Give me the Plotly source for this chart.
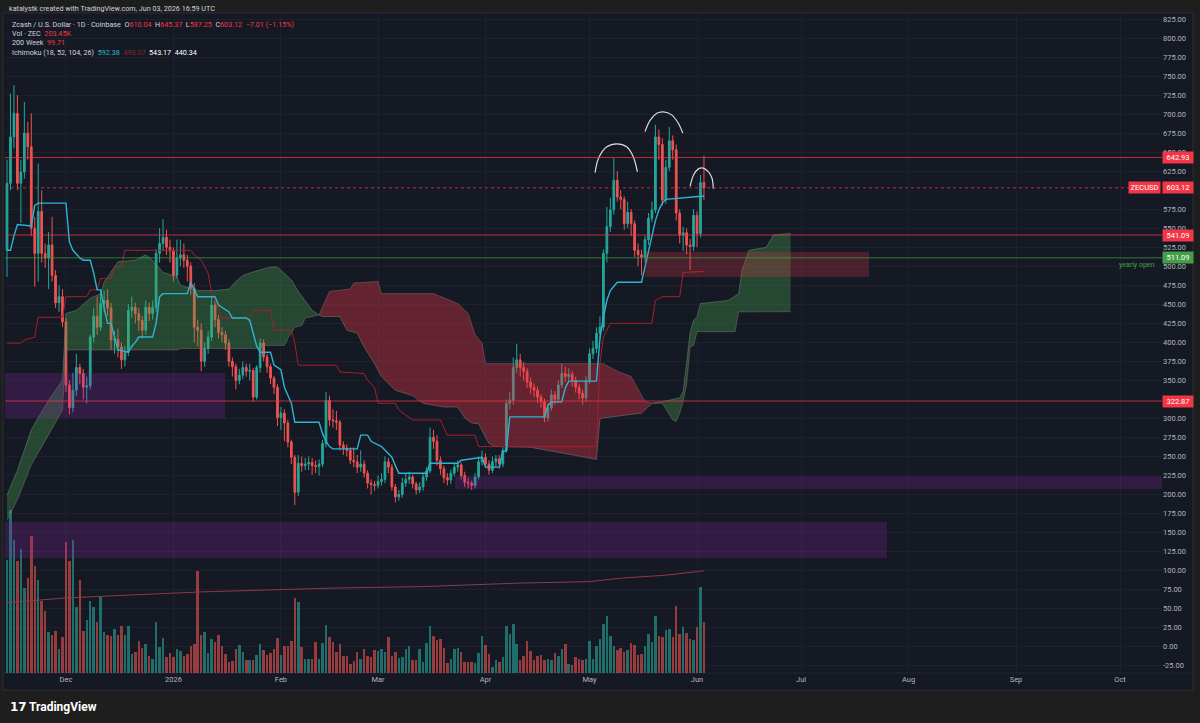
import datetime as dt
import plotly.graph_objects as go

START = dt.datetime(2025, 11, 14)   # index 0 of every series below

# ---- daily candles, Nov 14 2025 .. Jun 3 2026 (opens = previous close) ----
first_open = 521
closes = [
    609, 670, 701, 609, 624, 675, 657, 550, 517, 572,
    517, 511, 528, 488, 452, 460, 427, 344, 314, 337,
    367, 359, 341, 343, 407, 434, 420, 451, 455, 445,
    403, 404, 394, 377, 387, 442, 446, 438, 429, 416,
    446, 438, 446, 517, 530, 538, 525, 520, 488, 511,
    515, 508, 500, 471, 420, 416, 375, 392, 407, 449,
    430, 413, 410, 399, 375, 368, 350, 357, 367, 362,
    363, 328, 367, 399, 381, 368, 353, 341, 301, 307,
    294, 269, 249, 203, 241, 238, 240, 242, 238, 237,
    240, 267, 324, 298, 297, 295, 265, 261, 258, 245,
    243, 236, 240, 228, 215, 213, 212, 217, 220, 243,
    236, 210, 197, 200, 215, 220, 223, 214, 206, 210,
    223, 231, 275, 270, 245, 234, 222, 219, 228, 236,
    239, 225, 216, 215, 212, 223, 243, 249, 240, 232,
    243, 247, 240, 258, 320, 324, 367, 377, 367, 362,
    348, 341, 337, 328, 322, 301, 314, 331, 325, 344,
    359, 355, 358, 350, 341, 333, 327, 350, 385, 392,
    412, 420, 517, 552, 574, 613, 591, 588, 556, 571,
    556, 521, 515, 512, 535, 563, 574, 670, 660, 587,
    630, 665, 653, 570, 541, 544, 528, 526, 567, 543,
    610.13, 603.12]
highs = [
    640, 727, 738, 725, 640, 716, 690, 701, 565, 635,
    600, 530, 545, 565, 495, 475, 470, 432, 350, 360,
    385, 372, 365, 355, 410, 445, 460, 470, 468, 470,
    452, 415, 418, 400, 395, 450, 460, 452, 445, 435,
    455, 452, 455, 522, 550, 562, 548, 535, 525, 535,
    535, 530, 515, 505, 478, 430, 425, 400, 415, 460,
    455, 436, 420, 415, 404, 380, 372, 365, 375, 372,
    372, 366, 370, 405, 404, 385, 372, 356, 345, 315,
    312, 298, 272, 252, 252, 250, 248, 250, 248, 245,
    246, 272, 335, 330, 312, 310, 298, 270, 266, 262,
    262, 252, 258, 245, 232, 220, 218, 225, 228, 250,
    248, 240, 214, 206, 222, 228, 230, 226, 217, 216,
    228, 236, 288, 285, 278, 250, 238, 228, 233, 242,
    245, 242, 230, 222, 218, 228, 250, 258, 254, 245,
    250, 252, 252, 262, 325, 335, 380, 398, 385, 374,
    366, 354, 346, 342, 332, 326, 320, 338, 336, 350,
    372, 368, 366, 362, 355, 345, 338, 356, 392, 402,
    420, 434, 522, 578, 590, 642, 625, 600, 592, 585,
    575, 560, 530, 522, 540, 570, 585, 686, 680, 668,
    640, 683, 672, 660, 575, 552, 550, 536, 575, 572,
    620, 645.37]
lows = [
    486, 600, 655, 600, 557, 615, 640, 540, 473, 480,
    505, 498, 470, 480, 445, 440, 420, 335, 305, 308,
    330, 345, 325, 320, 338, 400, 410, 415, 440, 435,
    390, 385, 380, 365, 368, 382, 432, 425, 415, 405,
    410, 428, 430, 440, 505, 520, 515, 505, 480, 484,
    500, 498, 480, 462, 400, 395, 362, 368, 385, 402,
    420, 405, 400, 390, 368, 355, 338, 345, 352, 355,
    350, 322, 325, 360, 375, 360, 345, 332, 290, 285,
    270, 262, 240, 186, 198, 230, 232, 232, 226, 228,
    225, 236, 262, 290, 288, 285, 258, 252, 250, 240,
    236, 228, 230, 222, 208, 200, 205, 208, 212, 215,
    228, 205, 190, 192, 196, 210, 214, 208, 200, 202,
    205, 218, 228, 260, 238, 226, 215, 212, 214, 224,
    230, 220, 210, 208, 206, 208, 220, 238, 235, 226,
    228, 236, 234, 236, 255, 312, 318, 360, 355, 350,
    340, 332, 328, 320, 314, 295, 296, 310, 318, 320,
    340, 348, 350, 342, 334, 325, 318, 322, 345, 378,
    386, 405, 415, 505, 545, 568, 585, 575, 548, 550,
    540, 512, 500, 488, 505, 528, 558, 570, 640, 580,
    582, 625, 640, 560, 530, 520, 516, 495, 520, 525,
    538, 587.25]
# volume in thousands of ZEC
volume_k = [
    452, 652, 532, 448, 496, 340, 380, 548, 428, 372,
    288, 248, 164, 152, 168, 96, 144, 524, 448, 532,
    264, 372, 168, 212, 288, 264, 204, 304, 164, 152,
    148, 176, 152, 188, 152, 188, 76, 84, 128, 100,
    116, 68, 56, 204, 104, 140, 64, 80, 64, 96,
    88, 68, 76, 108, 116, 408, 152, 164, 80, 136,
    124, 152, 108, 76, 44, 48, 96, 112, 84, 52,
    52, 52, 72, 116, 92, 72, 80, 96, 140, 72,
    108, 108, 128, 300, 284, 104, 56, 56, 56, 124,
    56, 120, 192, 144, 124, 84, 116, 68, 68, 36,
    48, 84, 56, 96, 68, 64, 92, 88, 96, 84,
    144, 68, 84, 60, 64, 96, 108, 52, 52, 96,
    44, 120, 188, 148, 132, 136, 100, 40, 56, 96,
    100, 84, 44, 44, 44, 40, 80, 148, 112, 76,
    24, 52, 44, 64, 188, 156, 196, 116, 52, 68,
    128, 88, 52, 68, 72, 52, 56, 52, 80, 68,
    96, 116, 36, 32, 64, 56, 52, 56, 128, 56,
    108, 136, 196, 228, 148, 108, 92, 100, 84, 92,
    120, 112, 72, 76, 108, 156, 124, 228, 148, 144,
    172, 176, 144, 268, 156, 184, 160, 136, 132, 184,
    344, 203.45]

# ---- Ichimoku (18, 52, 104, 26) ----
tenkan_i = [0, 1, 2, 3, 7, 8, 9, 17, 18, 19, 21, 22, 24, 25, 26, 27, 28, 29, 30, 31,
            32, 35, 36, 37, 38, 42, 43, 44, 45, 52, 53, 54, 55, 60, 61, 64, 65, 69, 70, 71,
            72, 73, 76, 77, 79, 80, 82, 83, 90, 91, 92, 93, 94, 101, 102, 104, 105, 108, 111, 112,
            113, 121, 122, 130, 131, 137, 138, 142, 143, 144, 145, 155, 156, 157, 160, 161, 162, 170, 171, 172,
            173, 174, 176, 183, 184, 185, 186, 187, 188, 189, 190, 201]
tenkan_v = [521, 521, 540, 555, 553, 580, 583, 583, 532, 521, 511, 508, 508, 491, 469, 469, 445, 425, 425, 407,
            390, 387, 395, 400, 407, 407, 425, 460, 464, 464, 479, 469, 460, 460, 449, 440, 432, 432, 429, 412,
            395, 387, 387, 370, 364, 341, 320, 295, 295, 280, 270, 263, 260, 260, 278, 278, 270, 263, 249, 238,
            228, 228, 241, 241, 245, 249, 236, 236, 257, 257, 302, 302, 317, 322, 322, 340, 349, 349, 405, 433,
            455, 468, 479, 479, 499, 520, 543, 560, 574, 583, 588, 592.38]
kijun_i = [0, 4, 5, 8, 9, 16, 17, 23, 24, 26, 27, 30, 31, 33, 34, 53, 54, 56, 58, 59,
           61, 62, 70, 71, 76, 77, 82, 83, 84, 95, 96, 103, 104, 106, 107, 112, 113, 116, 117, 125,
           126, 127, 135, 136, 170, 171, 172, 174, 186, 187, 189, 194, 195, 201]
kijun_v = [399, 399, 403, 407, 433, 433, 460, 460, 469, 469, 484, 484, 499, 499, 521, 521, 515, 508, 491, 466,
           445, 432, 432, 442, 442, 416, 416, 399, 370, 370, 361, 359, 350, 341, 320, 320, 311, 302, 298, 298,
           289, 278, 278, 263, 263, 372, 407, 425, 425, 455, 460, 460, 492, 493.07]
span_a_i = [0, 3, 7, 12, 16, 17, 20, 24, 27, 28, 32, 37, 40, 42, 45, 49, 50, 55, 60, 64,
            66, 68, 72, 76, 78, 80, 82, 84, 86, 88, 90, 91, 96, 98, 101, 103, 106, 108, 112, 117,
            120, 126, 130, 132, 134, 136, 139, 141, 151, 160, 168, 170, 171, 183, 185, 186, 189, 194, 195, 196,
            197, 198, 199, 200, 208, 211, 212, 214, 219, 221, 226]
span_a_v = [199, 232, 285, 324, 350, 438, 442, 458, 464, 479, 506, 508, 515, 508, 492, 486, 475, 468, 468, 470,
            480, 488, 494, 499, 499, 490, 482, 467, 455, 442, 436, 434, 434, 416, 412, 394, 372, 355, 337, 330,
            320, 315, 315, 301, 294, 293, 267, 263, 262, 255, 248, 246, 300, 307, 316, 320, 322, 327, 335, 372,
            412, 429, 433, 451, 455, 464, 495, 521, 525, 541, 543.17]
span_b_i = [0, 3, 7, 12, 16, 17, 49, 50, 73, 74, 80, 81, 83, 85, 86, 90, 91, 93, 99, 100,
            107, 108, 123, 130, 133, 135, 137, 138, 172, 176, 180, 182, 184, 186, 189, 192, 193, 194, 195, 196,
            197, 198, 199, 210, 211, 226]
span_b_v = [166, 193, 239, 278, 311, 390, 390, 392, 392, 396, 396, 405, 420, 422, 432, 436, 447, 467, 470, 478,
            480, 464, 464, 451, 438, 410, 399, 372, 372, 362, 355, 338, 322, 320, 320, 298, 296, 307, 322, 345,
            394, 396, 414, 414, 440, 440.34]
cloud_cross_i = [0, 90, 186, 226]          # span A / span B crossings

# ---- 200 week moving average ----
ma200_i = [0, 8, 17, 36, 56, 75, 94, 120, 148, 168, 177, 190, 196, 201]
ma200_v = [58, 61, 64, 68, 72, 74.5, 77, 79, 83.6, 85.5, 90, 94, 96.6, 99.71]

# ---- drawings ----
level_prices = [642.93, 541.09, 322.87]
yearly_open = 511.09
last_price = 603.12
zone_start = [-1, 129.2, -1]
zone_end = [62.9, 400, 253.8]
zone_low = [300.6, 207.0, 116.5]
zone_high = [359.7, 224.0, 163.9]
supply_start, supply_end, supply_low, supply_high = 184, 248.6, 486, 519
arc_left_i = [169.6, 170.6, 173.0, 175.9, 178.7, 180.6, 181.8]
arc_left_p = [623, 642, 657, 661, 657, 644, 624]
arc_head_i = [184.0, 185.5, 187.4, 189.3, 191.7, 193.6, 194.9]
arc_head_p = [677, 692, 701, 703, 699, 688, 675]
arc_right_i = [197.0, 198.0, 199.4, 200.8, 202.3, 203.3, 203.7]
arc_right_p = [605, 620, 628, 629, 624, 616, 602]

month_ticks = ["2025-12-01", "2026-01-01", "2026-02-01", "2026-03-01", "2026-04-01", "2026-05-01",
               "2026-06-01", "2026-07-01", "2026-08-01", "2026-09-01", "2026-10-01"]
month_labels = ["Dec", "2026", "Feb", "Mar", "Apr", "May", "Jun", "Jul", "Aug", "Sep", "Oct"]
# price labels hidden behind the tags in the original
price_ticks = [v for v in range(-25, 850, 25) if v not in (600, 325)]

UP, DOWN = "#26a69a", "#ef5350"
RED = "#f23645"
GREEN = "#43a047"
BG = "#151924"
OUTER = "#1e1e1e"
GRID = "#1d212d"
AXIS_TXT = "#b2b5be"
FONT = "Roboto"

# plot area in pixels (used only to place texts outside the axes)
PL, PR, PT, PB = 5, 1162, 13, 673


def day(i):
    return START + dt.timedelta(days=i)


def px(x):
    return (x - PL) / (PR - PL)


def py(y):
    return (PB - y) / (PB - PT)


dates = [day(i) for i in range(len(closes))]
opens = [first_open] + closes[:-1]
vol_colors = ["rgba(38,166,154,0.6)" if c >= o else "rgba(239,83,80,0.6)" for o, c in zip(opens, closes)]

fig = go.Figure()

# volume (base axis, drawn under everything)
fig.add_trace(go.Bar(x=dates, y=volume_k, marker=dict(color=vol_colors, line=dict(width=0)),
                     width=0.72 * 86400000, yaxis="y", hoverinfo="skip"))

# ichimoku cloud, one polygon per coloured stretch
for k in range(len(cloud_cross_i) - 1):
    a0, a1 = cloud_cross_i[k], cloud_cross_i[k + 1]
    ax = [day(i) for i in span_a_i if a0 <= i <= a1]
    ay = [v for i, v in zip(span_a_i, span_a_v) if a0 <= i <= a1]
    bx = [day(i) for i in span_b_i if a0 <= i <= a1]
    by = [v for i, v in zip(span_b_i, span_b_v) if a0 <= i <= a1]
    green = ay[len(ay) // 2] >= by[len(by) // 2]
    fig.add_trace(go.Scatter(
        x=ax + bx[::-1], y=ay + by[::-1], yaxis="y2", mode="lines", fill="toself",
        fillcolor="rgba(76,175,80,0.32)" if green else "rgba(242,54,69,0.36)",
        line=dict(width=0), hoverinfo="skip"))

fig.add_trace(go.Scatter(x=[day(i) for i in span_a_i], y=span_a_v, yaxis="y2", mode="lines",
                         line=dict(color="rgba(130,150,135,0.55)", width=0.8), hoverinfo="skip"))
fig.add_trace(go.Scatter(x=[day(i) for i in span_b_i], y=span_b_v, yaxis="y2", mode="lines",
                         line=dict(color="rgba(150,115,120,0.55)", width=0.8), hoverinfo="skip"))

# 200 week MA
fig.add_trace(go.Scatter(x=[day(i) for i in ma200_i], y=ma200_v, yaxis="y2", mode="lines",
                         line=dict(color="#8e3a44", width=1), hoverinfo="skip"))

# base and conversion lines
fig.add_trace(go.Scatter(x=[day(i) for i in kijun_i], y=kijun_v, yaxis="y2", mode="lines",
                         line=dict(color="#a3202c", width=1), hoverinfo="skip"))
fig.add_trace(go.Scatter(x=[day(i) for i in tenkan_i], y=tenkan_v, yaxis="y2", mode="lines",
                         line=dict(color="#2cb5d3", width=1.4), hoverinfo="skip"))

# candles
fig.add_trace(go.Candlestick(
    x=dates, open=opens, high=highs, low=lows, close=closes, yaxis="y2",
    increasing=dict(line=dict(color=UP, width=1), fillcolor=UP),
    decreasing=dict(line=dict(color=DOWN, width=1), fillcolor=DOWN),
    hoverinfo="skip"))

# head & shoulders arcs
for ai, ap in [(arc_left_i, arc_left_p), (arc_head_i, arc_head_p), (arc_right_i, arc_right_p)]:
    fig.add_trace(go.Scatter(x=[day(i) for i in ai], y=ap, yaxis="y2", mode="lines",
                             line=dict(color="#d9dbe0", width=1.2, shape="spline"), hoverinfo="skip"))

shapes = [
    # pane background + frame
    dict(type="rect", xref="paper", yref="paper", x0=px(3), x1=px(1193), y0=py(690), y1=py(13),
         fillcolor=BG, line=dict(color="#2a2e39", width=1), layer="below"),
    dict(type="line", xref="paper", yref="paper", x0=px(3), x1=px(1193), y0=0, y1=0,
         line=dict(color="#232733", width=1), layer="below"),
]
for s, e, lo, hi in zip(zone_start, zone_end, zone_low, zone_high):
    shapes.append(dict(type="rect", xref="x", yref="y2", x0=day(s), x1=day(e), y0=lo, y1=hi,
                       fillcolor="rgba(156,39,176,0.22)", line=dict(width=0), layer="above"))
shapes.append(dict(type="rect", xref="x", yref="y2", x0=day(supply_start), x1=day(supply_end),
                   y0=supply_low, y1=supply_high, fillcolor="rgba(242,54,69,0.24)",
                   line=dict(width=0), layer="above"))
for p in level_prices:
    shapes.append(dict(type="line", xref="paper", yref="y2", x0=0, x1=1, y0=p, y1=p,
                       line=dict(color="rgba(242,54,69,0.75)", width=1), layer="above"))
shapes.append(dict(type="line", xref="paper", yref="y2", x0=0, x1=1, y0=yearly_open, y1=yearly_open,
                   line=dict(color="rgba(67,160,71,0.7)", width=1), layer="above"))
shapes.append(dict(type="line", xref="paper", yref="y2", x0=0, x1=1, y0=last_price, y1=last_price,
                   line=dict(color="rgba(242,54,69,0.75)", width=1, dash="dot"), layer="above"))

ann = []


def tag(price, text, color):
    ann.append(dict(xref="paper", yref="y2", x=1, y=price, xanchor="left", yanchor="middle",
                    text=text, showarrow=False, bgcolor=color, width=28, height=9, borderpad=1,
                    font=dict(family=FONT, size=7.5, color="#ffffff")))


for p in level_prices:
    tag(p, f"{p:.2f}", RED)
tag(last_price, f"{last_price:.2f}", RED)
tag(yearly_open, f"{yearly_open:.2f}", GREEN)
ann.append(dict(xref="paper", yref="y2", x=1, y=last_price, xanchor="right", yanchor="middle", xshift=-1,
                text="ZECUSD", showarrow=False, bgcolor=RED, width=29, height=9, borderpad=1,
                font=dict(family=FONT, size=7.5, color="#ffffff")))
ann.append(dict(xref="paper", yref="y2", x=1, y=501.5, xanchor="right", yanchor="middle", xshift=-5,
                text="yearly open", showarrow=False, font=dict(family=FONT, size=7, color=GREEN)))

TXT = "#d1d4dc"


def red(s):
    return f"<span style='color:{RED}'>{s}</span>"


sp = "\u00a0"
legend_lines = [
    f"Zcash / U.S. Dollar · 1D · Coinbase{sp}{sp}O{red('610.04')}{sp}{sp}H{red('645.37')}{sp}{sp}"
    f"L{red('587.25')}{sp}{sp}C{red('603.12')}{sp}{sp}{red('−7.01 (−1.15%)')}",
    f"Vol · ZEC{sp}{sp}{red('203.45K')}",
    f"200 Week{sp}{sp}{red('99.71')}",
    f"Ichimoku (18, 52, 104, 26){sp}{sp}<span style='color:#2cb5d3'>592.38</span>{sp}{sp}"
    f"<span style='color:#8c2530'>493.07</span>{sp}{sp}<span style='color:#ffffff'>543.17</span>{sp}{sp}"
    f"<span style='color:#ffffff'>440.34</span>",
]
for k, line in enumerate(legend_lines):
    ann.append(dict(xref="paper", yref="paper", x=px(10), y=py(24 + 9.4 * k), xanchor="left",
                    yanchor="middle", text=line, showarrow=False, font=dict(family=FONT, size=7.2, color=TXT)))
ann.append(dict(xref="paper", yref="paper", x=px(7), y=py(8.3), xanchor="left", yanchor="middle",
                text="katalystk created with TradingView.com, Jun 03, 2026 16:59 UTC", showarrow=False,
                font=dict(family=FONT, size=7.2, color=TXT)))
ann.append(dict(xref="paper", yref="paper", x=px(8), y=py(707), xanchor="left", yanchor="middle",
                text="<b>17</b>", showarrow=False, font=dict(family="DejaVu Sans", size=12, color="#ffffff")))
ann.append(dict(xref="paper", yref="paper", x=px(27), y=py(707), xanchor="left", yanchor="middle",
                text="<b>TradingView</b>", showarrow=False, font=dict(family=FONT, size=12, color="#ffffff")))

fig.update_layout(
    width=1200, height=723, autosize=False,
    margin=dict(l=PL, r=1200 - PR, t=PT, b=723 - PB, pad=0),
    paper_bgcolor=OUTER, plot_bgcolor=BG,
    showlegend=False, bargap=0,
    font=dict(family=FONT, size=7.5, color=AXIS_TXT),
    xaxis=dict(type="date", range=[day(-0.58), day(333.1)], rangeslider=dict(visible=False),
               tickmode="array", tickvals=month_ticks, ticktext=month_labels,
               showgrid=True, gridcolor=GRID, gridwidth=1, zeroline=False, showline=False,
               ticks="", tickfont=dict(size=7.5, color=AXIS_TXT)),
    yaxis=dict(range=[0, 2648], visible=False, showgrid=False, fixedrange=True),
    yaxis2=dict(overlaying="y", side="right", range=[-34.6, 832.9],
                tickmode="array", tickvals=price_ticks, ticktext=[f"{v:.2f}" for v in price_ticks],
                showgrid=True, gridcolor=GRID, gridwidth=1, zeroline=False,
                showline=False, ticks="", tickfont=dict(size=7.5, color=AXIS_TXT)),
    shapes=shapes, annotations=ann,
)

# the page's default 8px body margin would shift the chart; remove it
fig.write_html("out.html", config={"displayModeBar": False},
               post_script=f"document.body.style.margin='0';document.body.style.background='{OUTER}';")
